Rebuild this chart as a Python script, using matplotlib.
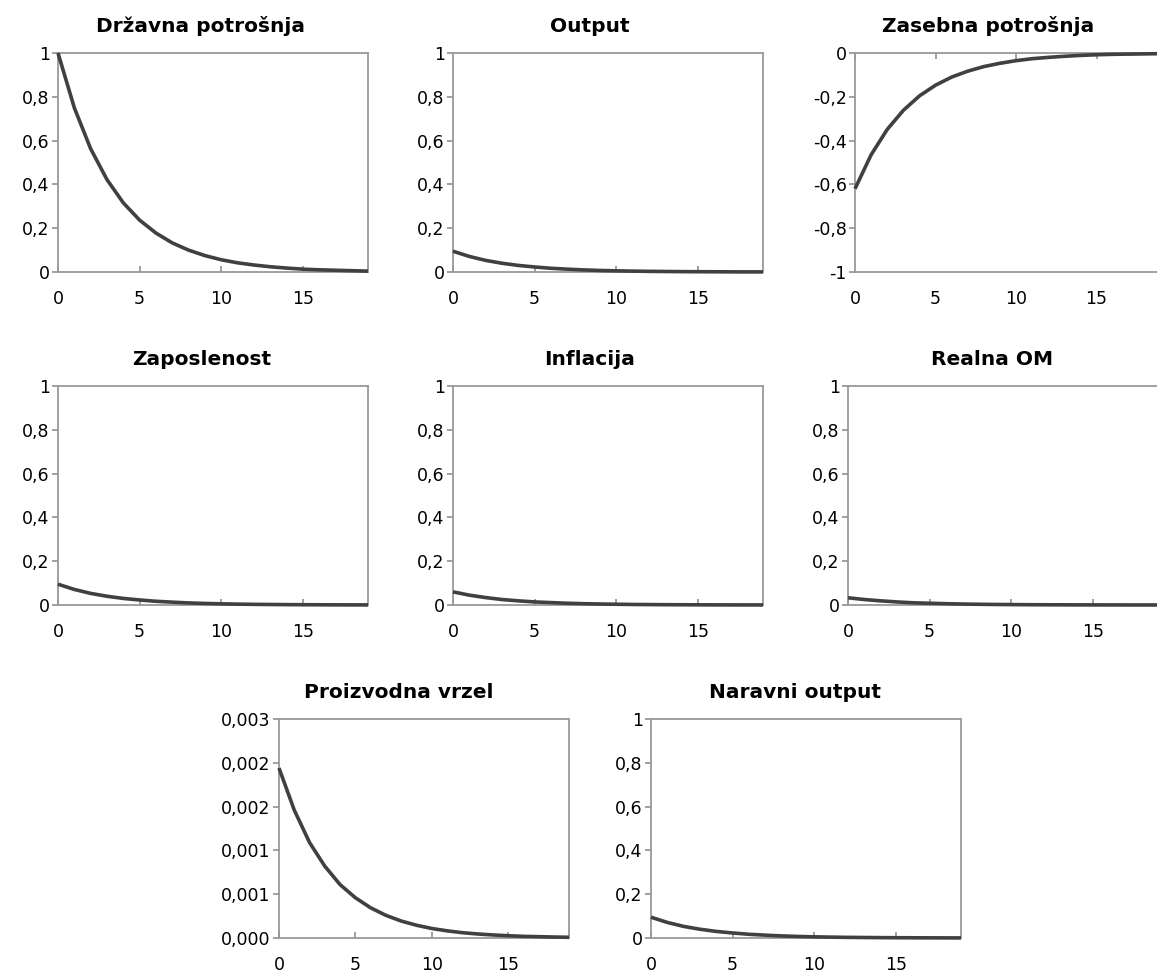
import numpy as np
import matplotlib.pyplot as plt

# horizon (quarters)
periods = list(range(20))

drzavna_potrosnja = [1.0, 0.75, 0.563, 0.422, 0.316, 0.237, 0.178, 0.133, 0.100, 0.075,
                     0.056, 0.042, 0.032, 0.024, 0.018, 0.013, 0.010, 0.008, 0.006, 0.004]
output = [0.095, 0.071, 0.053, 0.040, 0.030, 0.023, 0.017, 0.013, 0.0095, 0.0071,
          0.0053, 0.0040, 0.0030, 0.0023, 0.0017, 0.0013, 0.0010, 0.0007, 0.0005, 0.0004]
zasebna_potrosnja = [-0.62, -0.465, -0.349, -0.262, -0.196, -0.147, -0.110, -0.083, -0.062, -0.047,
                     -0.035, -0.026, -0.020, -0.015, -0.011, -0.008, -0.006, -0.005, -0.004, -0.003]
zaposlenost = [0.095, 0.071, 0.053, 0.040, 0.030, 0.023, 0.017, 0.013, 0.0095, 0.0071,
               0.0053, 0.0040, 0.0030, 0.0023, 0.0017, 0.0013, 0.0010, 0.0007, 0.0005, 0.0004]
inflacija = [0.060, 0.045, 0.034, 0.025, 0.019, 0.014, 0.011, 0.008, 0.006, 0.0045,
             0.0034, 0.0025, 0.0019, 0.0014, 0.0011, 0.0008, 0.0006, 0.00045, 0.00034, 0.00025]
realna_om = [0.033, 0.025, 0.019, 0.014, 0.010, 0.008, 0.006, 0.0044, 0.0033, 0.0025,
             0.0019, 0.0014, 0.0010, 0.0008, 0.0006, 0.00045, 0.00034, 0.00025, 0.00019, 0.00014]
proizvodna_vrzel = [0.00194, 0.00146, 0.00109, 0.00082, 0.00061, 0.00046, 0.000345, 0.000259,
                    0.000194, 0.000146, 0.000109, 0.000082, 0.000061, 0.000046, 0.000035,
                    0.000026, 0.000019, 0.000015, 0.000011, 0.000008]
naravni_output = [0.095, 0.071, 0.053, 0.040, 0.030, 0.023, 0.017, 0.013, 0.0095, 0.0071,
                  0.0053, 0.0040, 0.0030, 0.0023, 0.0017, 0.0013, 0.0010, 0.0007, 0.0005, 0.0004]

x_ticks = [0, 5, 10, 15]

unit_ticks = [0, 0.2, 0.4, 0.6, 0.8, 1.0]
unit_labels = ["0", "0,2", "0,4", "0,6", "0,8", "1"]
neg_ticks = [-1.0, -0.8, -0.6, -0.4, -0.2, 0]
neg_labels = ["-1", "-0,8", "-0,6", "-0,4", "-0,2", "0"]
gap_ticks = [0, 0.0005, 0.001, 0.0015, 0.002, 0.0025]
gap_labels = ["0,000", "0,001", "0,001", "0,002", "0,002", "0,003"]

W, H = 1157, 972
fig = plt.figure(figsize=(W / 100, H / 100), dpi=100)

LINE = '#404040'
FRAME = '#999999'

# title, data, yticks, ylabels, box in pixels (left, top, right, bottom), title x
panels = [
    ("Državna potrošnja", drzavna_potrosnja, unit_ticks, unit_labels, (58, 53, 368, 272), 0.46),
    ("Output", output, unit_ticks, unit_labels, (453, 53, 763, 272), 0.44),
    ("Zasebna potrošnja", zasebna_potrosnja, neg_ticks, neg_labels, (855, 53, 1161, 272), 0.435),
    ("Zaposlenost", zaposlenost, unit_ticks, unit_labels, (58, 386, 368, 605), 0.465),
    ("Inflacija", inflacija, unit_ticks, unit_labels, (453, 386, 763, 605), 0.44),
    ("Realna OM", realna_om, unit_ticks, unit_labels, (848, 386, 1158, 605), 0.465),
    ("Proizvodna vrzel", proizvodna_vrzel, gap_ticks, gap_labels, (279, 719, 569, 938), 0.414),
    ("Naravni output", naravni_output, unit_ticks, unit_labels, (651, 719, 961, 938), 0.465),
]

for title, values, yt, yl, (l, t, r, b), tx in panels:
    ax = fig.add_axes([l / W, 1 - b / H, (r - l) / W, (b - t) / H])
    ax.plot(periods, values, color=LINE, lw=2.6, clip_on=False, zorder=5,
            solid_capstyle='butt', solid_joinstyle='round')
    ax.set_xlim(0, 19)
    ax.set_ylim(yt[0], yt[-1])
    ax.set_xticks(x_ticks)
    ax.set_xticklabels([str(v) for v in x_ticks])
    ax.set_yticks(yt)
    ax.set_yticklabels(yl)
    for s in ax.spines.values():
        s.set_color(FRAME)
        s.set_linewidth(1.3)
    ax.tick_params(axis='y', direction='out', length=4.5, width=1.3, color=FRAME,
                   pad=1.5, labelsize=12.5)
    if yt[-1] == 0:
        # category axis crosses at zero (top), labels stay low
        ax.tick_params(axis='x', direction='in', length=4.5, width=1.3, color=FRAME,
                       bottom=False, top=True, labelbottom=True, pad=13, labelsize=12.5)
    else:
        ax.tick_params(axis='x', direction='in', length=4.5, width=1.3, color=FRAME,
                       pad=13, labelsize=12.5)
    ax.set_title(title, fontsize=14.5, fontweight='bold', pad=15, x=tx)

fig.savefig('out.png', dpi=100)
